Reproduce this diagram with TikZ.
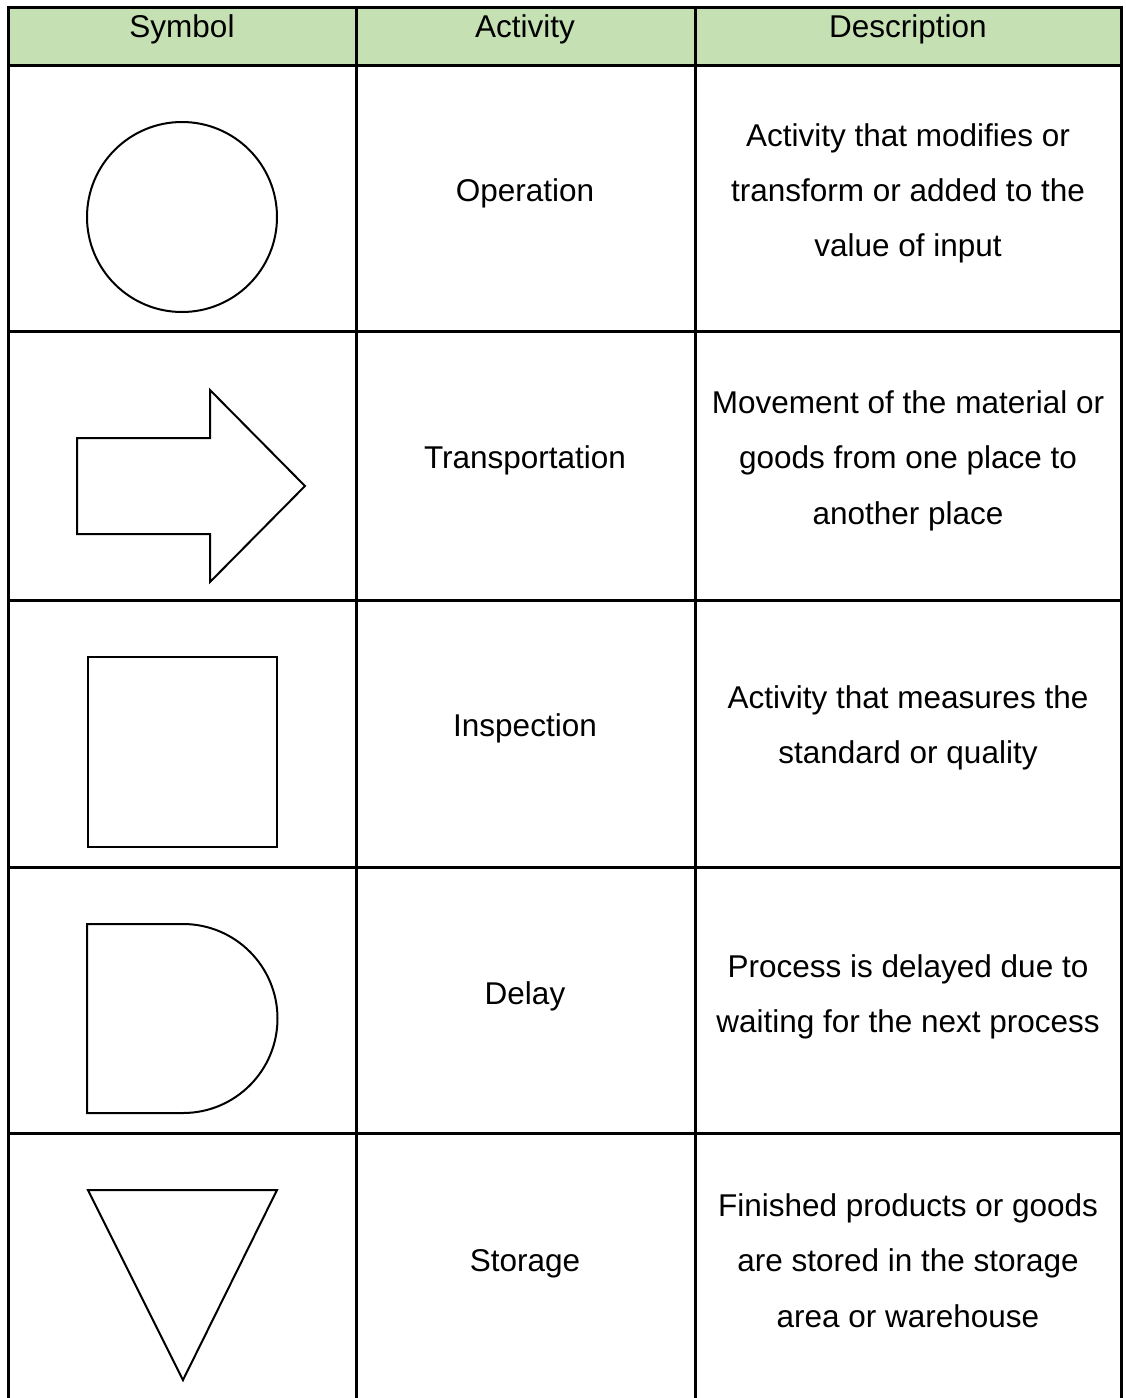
\documentclass[tikz,border=0pt]{standalone}
\usepackage{fontspec}
\setmainfont{Liberation Sans}
\definecolor{hdrgreen}{HTML}{C5E0B3}
\begin{document}
\begin{tikzpicture}[x=1pt,y=-1pt,
  grid/.style={line width=3pt,black},
  shp/.style={line width=2pt,black,line join=miter},
  txt/.style={anchor=base,inner sep=0pt,font=\fontsize{31.5}{40}\selectfont}]
\useasboundingbox (0,0) rectangle (1125,1398);
% header
\fill[hdrgreen] (8,7.5) rectangle (1121,65);
% grid
\draw[grid] (8,7.5) -- (1121,7.5);
\foreach \yy in {65,331,600,867,1133} \draw[grid] (8,\yy) -- (1121,\yy);
\foreach \xx in {8,356,695,1121} \draw[grid] (\xx,6) -- (\xx,1398);
% header texts
\node[txt] (h1) at (182,37) {Symbol};
\node[txt] (h2) at (525,37) {Activity};
\node[txt] (h3) at (908,37) {Description};
% activities
\node[txt] (a1) at (525,201) {Operation};
\node[txt] (a2) at (525,468) {Transportation};
\node[txt] (a3) at (525,736) {Inspection};
\node[txt] (a4) at (525,1004) {Delay};
\node[txt] (a5) at (525,1271) {Storage};
% descriptions
\node[txt] (d1a) at (908,146) {Activity that modifies or};
\node[txt] (d1b) at (908,201) {transform or added to the};
\node[txt] (d1c) at (908,256) {value of input};
\node[txt] (d2a) at (908,413) {Movement of the material or};
\node[txt] (d2b) at (908,468) {goods from one place to};
\node[txt] (d2c) at (908,524) {another place};
\node[txt] (d3a) at (908,708) {Activity that measures the};
\node[txt] (d3b) at (908,763) {standard or quality};
\node[txt] (d4a) at (908,977) {Process is delayed due to};
\node[txt] (d4b) at (908,1032) {waiting for the next process};
\node[txt] (d5a) at (908,1216) {Finished products or goods};
\node[txt] (d5b) at (908,1271) {are stored in the storage};
\node[txt] (d5c) at (908,1327) {area or warehouse};
% symbols
\draw[shp] (182,217) circle[radius=95pt];
\draw[shp] (77,438) -- (210,438) -- (210,390) -- (305,486) -- (210,582) -- (210,534) -- (77,534) -- cycle;
\draw[shp] (88,657) rectangle (277,847);
\draw[shp] (87,924) -- (183,924) arc[start angle=90,end angle=-90,radius=94.5pt] -- (87,1113) -- cycle;
\draw[shp] (88,1190) -- (277,1190) -- (183,1380) -- cycle;
\end{tikzpicture}
\end{document}
